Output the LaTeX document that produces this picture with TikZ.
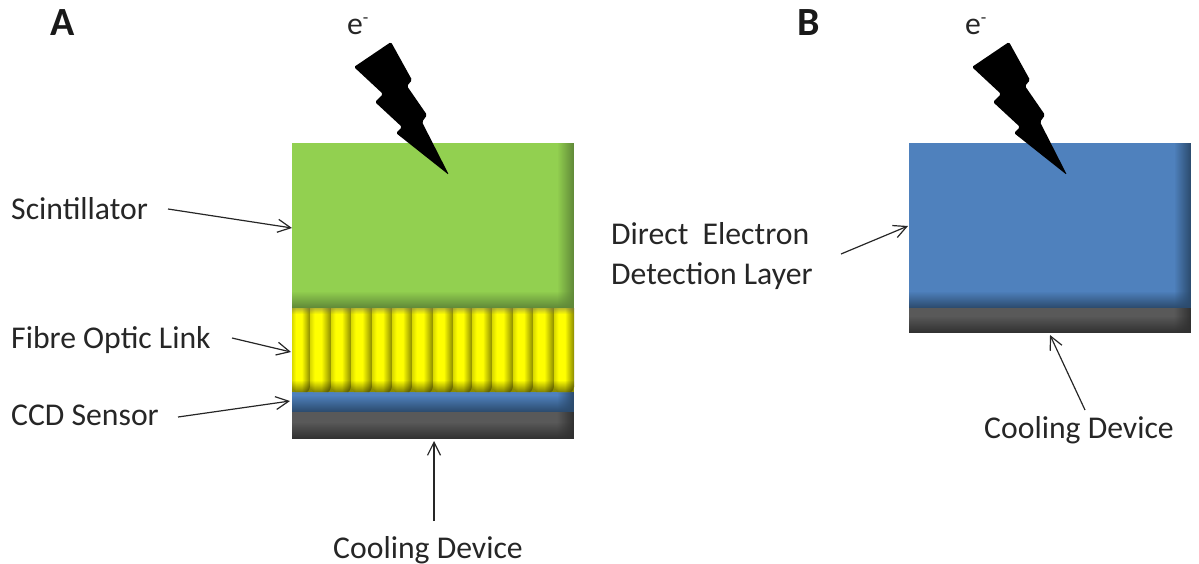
\documentclass[tikz,border=0pt]{standalone}
\usepackage{fontspec}
\setmainfont{Carlito}
\usetikzlibrary{arrows.meta,fadings}
\definecolor{green1}{HTML}{92D050}
\definecolor{green2}{HTML}{5F8838}
\definecolor{blue1}{HTML}{4F81BD}
\definecolor{blue2}{HTML}{2B4A6C}
\definecolor{grey1}{HTML}{595959}
\definecolor{grey2}{HTML}{303030}
\definecolor{yel}{HTML}{FFFF00}
\definecolor{yel2}{HTML}{8A8A00}
\pgfdeclarehorizontalshading{cyl}{100bp}{color(0bp)=(yel!85!black); color(25bp)=(yel!85!black); color(36bp)=(yel); color(52bp)=(yel); color(75bp)=(yel2); color(100bp)=(yel2)}
\newcommand{\layerbox}[7]{%
  \fill[#6] (#2,#3) rectangle (#4,#5);
  \fill[#7,path fading=west] (#4-17,#3) rectangle (#4,#5);
  \fill[#7,path fading=north] (#2,#5-17) rectangle (#4,#5);
  \coordinate (#1) at ({(#2+#4)/2},{(#3+#5)/2});
}
\newcommand{\fibrecell}[2]{%
  \shade[shading=cyl]
    (#1,308) -- (#2,308) -- (#2,387) to[out=90,in=0] ({#2-3},392) -- ({#1+3},392) to[out=180,in=90] (#1,387) -- cycle;
  \fill[black!60,opacity=0.45,path fading=south] (#1,308) rectangle (#2,314);
  \fill[black,opacity=0.5,path fading=north]
    (#1,380) -- (#2,380) -- (#2,387) to[out=90,in=0] ({#2-3},392) -- ({#1+3},392) to[out=180,in=90] (#1,387) -- cycle;
}
\newcommand{\bolt}[2]{%
  \fill[black,rounded corners=1.5pt,shift={(#1,0)}]
    (391,42) -- (412,80) -- (407,86) -- (427,115) -- (422,122) -- (449,175) -- (396,133) -- (402,127) -- (375,102) -- (383,94) -- (354,67) -- cycle;
  \coordinate (#2) at (#1+449,175);
}
\tikzset{
  label text/.style={anchor=base west,inner sep=0pt,font=\fontsize{31.7}{32}\selectfont,text=black!85},
  panel text/.style={anchor=base west,inner sep=0pt,font=\fontsize{40}{40}\selectfont\bfseries,text=black!90},
  pointer/.style={draw=black!85,line width=1.2pt,-{Straight Barb[length=13pt,width=13pt,line width=1.2pt]}}
}
\begin{document}
\begin{tikzpicture}[x=1pt,y=-1pt]
\useasboundingbox (0,0) rectangle (1199,564);
% panel A
\layerbox{scintbox}{292}{143}{574}{308}{green1}{green2}
\layerbox{ccdbox}{292}{392}{574}{412}{blue1}{blue2}
\layerbox{coolbox}{292}{412}{574}{439}{grey1}{grey2}
\fill[yel2] (292,308) rectangle (574,392);
\fibrecell{292}{310}\fibrecell{310}{331}\fibrecell{331}{351}\fibrecell{351}{372}
\fibrecell{372}{392}\fibrecell{392}{412}\fibrecell{412}{433}\fibrecell{433}{453}
\fibrecell{453}{472}\fibrecell{472}{492}\fibrecell{492}{513}\fibrecell{513}{533}
\fibrecell{533}{554}\fibrecell{554}{574}
\bolt{0}{tipA}
% panel B
\layerbox{directbox}{909}{143}{1191}{308}{blue1}{blue2}
\layerbox{coolboxB}{909}{308}{1191}{333}{grey1}{grey2}
\bolt{618}{tipB}
% texts
\node[panel text] (panelA) at (50,36) {A};
\node[panel text] (panelB) at (797,36) {B};
\node[label text] (eA) at (347,35) {e\raisebox{11pt}{\fontsize{18}{18}\selectfont -}};
\node[label text] (eB) at (965,35) {e\raisebox{11pt}{\fontsize{18}{18}\selectfont -}};
\node[label text] (scint) at (11,219) {Scintillator};
\node[label text] (fibre) at (11,348) {Fibre Optic Link};
\node[label text] (ccd) at (11,425) {CCD Sensor};
\node[label text] (cool) at (333,558) {Cooling Device};
\node[label text] (direct1) at (611,244) {Direct\ \ Electron};
\node[label text] (direct2) at (611,284) {Detection Layer};
\node[label text] (coolB) at (984,438) {Cooling Device};
% connector ends
\coordinate (s0) at (168,209); \coordinate (s1) at (292,228);
\coordinate (f0) at (232,338); \coordinate (f1) at (291,352);
\coordinate (c0) at (178,417); \coordinate (c1) at (290,401);
\coordinate (k0) at (434,521); \coordinate (k1) at (434,441);
\coordinate (d0) at (841,254); \coordinate (d1) at (908,226);
\coordinate (b0) at (1085,410); \coordinate (b1) at (1050,335);
\draw[pointer] (s0) -- (s1);
\draw[pointer] (f0) -- (f1);
\draw[pointer] (c0) -- (c1);
\draw[pointer] (k0) -- (k1);
\draw[pointer] (d0) -- (d1);
\draw[pointer] (b0) -- (b1);
\end{tikzpicture}
\end{document}
